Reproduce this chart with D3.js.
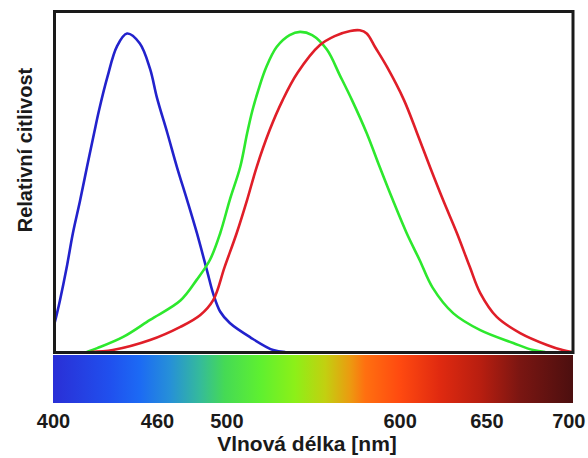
<!DOCTYPE html>
<html>
<head>
<meta charset="utf-8">
<script src="https://cdn.jsdelivr.net/npm/d3@7"></script>
<style>
  html, body { margin: 0; padding: 0; background: #fff; }
  svg { display: block; }
  text { font-family: "Liberation Sans", Arial, sans-serif; font-weight: bold; fill: #1a1a1a; }
</style>
</head>
<body>
<svg id="chart" width="588" height="458"></svg>
<script>
// ---- data ----
const tickValues = [400, 460, 500, 600, 650, 700];
const xTitle = "Vlnová délka [nm]";
const yTitle = "Relativní citlivost";

const wlBlue = [400,402.3,404,407.8,411.5,415.6,419.6,423.7,426.5,431.4,436.9,442.7,450,456,460,466,471.5,477.5,483,489,492.5,496.5,502,514,527,534];
const sBlue  = [0.07,0.12,0.16,0.26,0.37,0.47,0.575,0.68,0.75,0.855,0.95,0.99,0.96,0.88,0.79,0.68,0.575,0.47,0.37,0.25,0.18,0.125,0.09,0.045,0.006,0];

const wlGreen = [419.5,425.5,440.5,456,473.5,483,490.5,496.5,502,508,512,515,518.5,523,529,536.5,542.5,549.5,558,565.5,572.5,581,588.5,596,604,611.5,619,631,646.5,665.5,677,684];
const sGreen  = [0,0.012,0.047,0.10,0.16,0.225,0.286,0.37,0.473,0.575,0.68,0.75,0.815,0.885,0.948,0.985,0.995,0.985,0.94,0.86,0.783,0.68,0.575,0.473,0.37,0.286,0.20,0.12,0.068,0.028,0.006,0];

const wlRed = [421.5,434.5,456,473.5,485,492.5,499,506,512,517.5,525,532.5,541,554,562.5,571.5,577,581,585.8,592.7,602.5,610,617.5,625,633,640.5,646.5,656,669.5,685,694,699.5];
const sRed  = [0,0.006,0.037,0.078,0.115,0.162,0.264,0.37,0.473,0.575,0.69,0.783,0.867,0.954,0.982,0.998,1.0,0.99,0.948,0.886,0.783,0.681,0.575,0.473,0.37,0.264,0.183,0.109,0.059,0.022,0.006,0];

// spectrum colour stops (wavelength -> colour)
const spectrumWl     = [400, 433, 450, 467.5, 485, 499, 519.5, 539.5, 557, 571.5, 580, 600, 623, 646.5, 669.5, 700];
const spectrumColors = ["#2a2fd6","#2050ee","#1c6af4","#2690d8","#35bb9a","#45da55","#5ef030","#8cf018","#c2d010","#ec9a10","#ff7010","#ff4a10","#e02a10","#b81e10","#7a1612","#4c0f0f"];

// ---- layout ----
const W = 588;
const mLeft = 53, mRight = 573, mTop = 11, mBottom = 352;
const barTop = 355, barBottom = 403;

const svg = d3.select("#chart");
const x = d3.scaleLinear().domain([400, 700]).range([mLeft, mRight]);
const y = d3.scaleLinear().domain([0, 1.06]).range([mBottom, mTop]);

// spectrum gradient
const defs = svg.append("defs");
const grad = defs.append("linearGradient").attr("id", "spec")
  .attr("x1", 0).attr("x2", 1).attr("y1", 0).attr("y2", 0);
spectrumWl.forEach((w, i) => {
  grad.append("stop")
    .attr("offset", (x(w) - mLeft) / (mRight - mLeft))
    .attr("stop-color", spectrumColors[i]);
});
svg.append("rect")
  .attr("x", x(400)).attr("y", barTop)
  .attr("width", x(700) - x(400)).attr("height", barBottom - barTop)
  .attr("fill", "url(#spec)");

// clip for curves
defs.append("clipPath").attr("id", "plotclip")
  .append("rect").attr("x", mLeft).attr("y", mTop).attr("width", mRight - mLeft).attr("height", mBottom - mTop);

const line = d3.line()
  .x(d => x(d[0])).y(d => y(d[1]))
  .curve(d3.curveCatmullRom.alpha(0.5));

const series = [
  { wl: wlBlue,  s: sBlue,  color: "#2222cc" },
  { wl: wlGreen, s: sGreen, color: "#2de82d" },
  { wl: wlRed,   s: sRed,   color: "#e01e28" }
];
const g = svg.append("g").attr("clip-path", "url(#plotclip)");
series.forEach(sr => {
  g.append("path")
    .datum(sr.wl.map((w, i) => [w, sr.s[i]]))
    .attr("d", line)
    .attr("fill", "none")
    .attr("stroke", sr.color)
    .attr("stroke-width", 2.6)
    .attr("stroke-linejoin", "round");
});

// frame
svg.append("rect")
  .attr("x", mLeft + 1.5).attr("y", mTop + 0.5)
  .attr("width", mRight - mLeft - 1.5).attr("height", mBottom - mTop)
  .attr("fill", "none").attr("stroke", "#1a1a1a").attr("stroke-width", 3);

// x axis labels
const xAxis = d3.axisBottom(x).tickValues(tickValues).tickSize(0).tickPadding(0).tickFormat(d3.format("d"));
const ax = svg.append("g").attr("transform", `translate(0,${barBottom})`).call(xAxis);
ax.select(".domain").remove();
ax.selectAll("text")
  .attr("y", 25).attr("dy", null)
  .style("font-size", "20px")
  .style("font-family", "'Liberation Sans', Arial, sans-serif")
  .style("font-weight", "bold")
  .attr("fill", "#1a1a1a");
// keep labels inside the picture
ax.selectAll(".tick").each(function(d) {
  const t = d3.select(this).select("text");
  const bb = t.node().getBBox();
  const rightEdge = x(d) + bb.x + bb.width;
  if (rightEdge > W - 3) t.attr("x", (W - 3) - rightEdge);
});

// axis titles
svg.append("text")
  .attr("x", (mLeft + mRight) / 2 - 6).attr("y", 451)
  .attr("text-anchor", "middle")
  .style("font-size", "21px")
  .text(xTitle);

svg.append("text")
  .attr("transform", `translate(32, 150) rotate(-90)`)
  .attr("text-anchor", "middle")
  .style("font-size", "20px")
  .text(yTitle);
</script>
</body>
</html>
